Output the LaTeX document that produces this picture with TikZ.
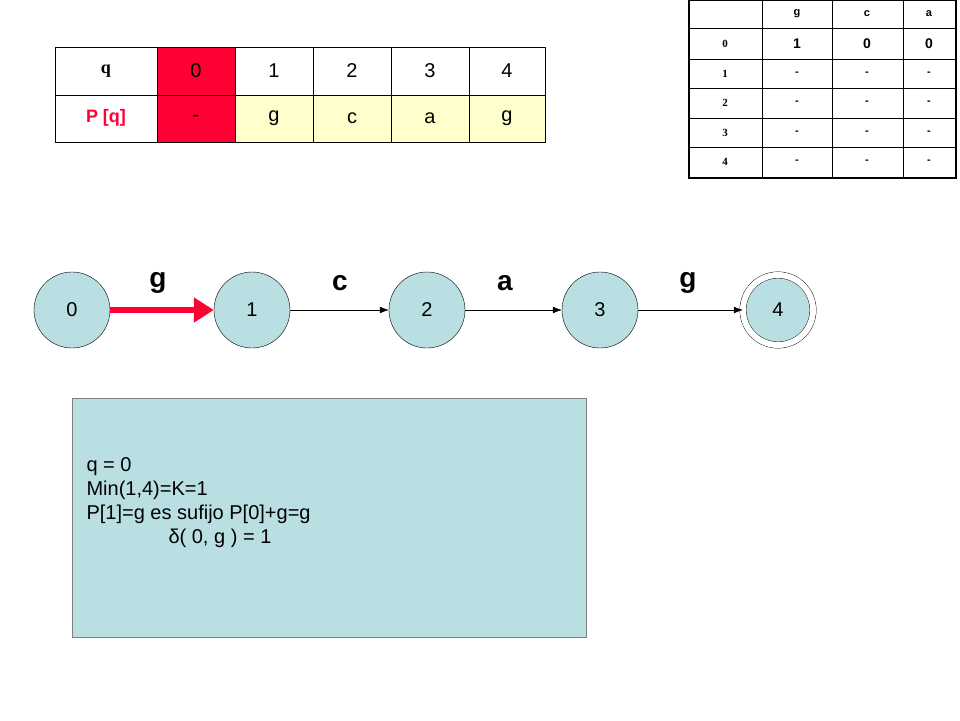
\documentclass[tikz,border=0pt]{standalone}
\usepackage{fontspec}
\setmainfont{Liberation Sans}
\newfontfamily\serifft{Liberation Serif}
\usetikzlibrary{arrows.meta}
\definecolor{pale}{HTML}{B9DFE3}
\definecolor{cream}{HTML}{FFFFCC}
\definecolor{hot}{HTML}{FF0033}
\tikzset{
  state/.style={circle,draw,fill=pale,minimum size=76pt,inner sep=0pt,font=\fontsize{20}{24}\selectfont},
  edgelbl/.style={font=\bfseries\fontsize{28}{32}\selectfont},
  bigcell/.style={font=\fontsize{20}{24}\selectfont},
  smallcell/.style={font=\bfseries\fontsize{11}{13}\selectfont}
}
\begin{document}
\begin{tikzpicture}[x=1pt,y=-1pt]
        \useasboundingbox (0,0) rectangle (960,720);
        % pattern table
        \fill[hot] (157,47) rectangle (235,142);
        \fill[cream] (235,95) rectangle (545,142);
        \draw (55,47) rectangle (545,142);
        \draw (55,95) -- (545,95);
        \foreach \x in {157,235,313,391,469} \draw (\x,47) -- (\x,142);
        \node[bigcell,font=\serifft\bfseries\fontsize{18}{20}\selectfont] (qh) at (106,71) {q};
        \node[bigcell,font=\bfseries\fontsize{18}{20}\selectfont,text=hot] (ph) at (106,118) {P [q]};
        \foreach \t/\x in {0/196,1/274,2/352,3/430,4/507} \node[bigcell] (q\t) at (\x,71) {\t};
        \foreach \t/\x in {-/196,g/274,c/352,a/430,g/507} \node[bigcell] at (\x,118) {\t};
        % transition table
        \draw[line width=2pt] (689,0) rectangle (956,178);
        \foreach \y in {28,59,88,118,147} \draw (689,\y) -- (956,\y);
        \foreach \x in {762,832,903} \draw (\x,0) -- (\x,178);
        \foreach \t/\x in {g/797,c/867,a/929} \node[smallcell] at (\x,14) {\t};
        \foreach \t/\y in {0/44,1/74,2/103,3/133,4/162} \node[smallcell,font=\serifft\bfseries\fontsize{11}{13}\selectfont] at (725,\y) {\t};
        \foreach \t/\x in {1/797,0/867,0/929} \node[smallcell,font=\bfseries\fontsize{14}{16}\selectfont] at (\x,44) {\t};
        \foreach \y in {74,103,133,162} \foreach \x in {797,867,929} \node[smallcell] at (\x,\y) {-};
        % automaton
        \node[state] (s0) at (72,310) {0};
        \node[state] (s1) at (252,310) {1};
        \node[state] (s2) at (427,310) {2};
        \node[state] (s3) at (600,310) {3};
        \node[state,double,double distance=6pt,minimum size=70pt] (s4) at (778,310) {4};
        \draw[hot,line width=6pt,-{Triangle[length=20pt,width=24pt]}] (s0) -- (s1);
        \draw[-{Latex[length=9pt]}] (s1) -- (s2);
        \draw[-{Latex[length=9pt]}] (s2) -- (s3);
        \draw[-{Latex[length=9pt]}] (s3) -- (s4);
        \node[edgelbl] at (158,283) {g};
        \node[edgelbl] at (340,283) {c};
        \node[edgelbl] at (505,283) {a};
        \node[edgelbl] at (688,283) {g};
        % note
        \draw[fill=pale,draw=gray] (72,398) rectangle (586,637);
        \node[bigcell,anchor=west,align=left] (note) at (83,503) {q = 0\\Min(1,4)=K=1\\P[1]=g es sufijo P[0]+g=g\\\hspace*{82pt}δ( 0, g ) = 1};
\end{tikzpicture}
\end{document}
